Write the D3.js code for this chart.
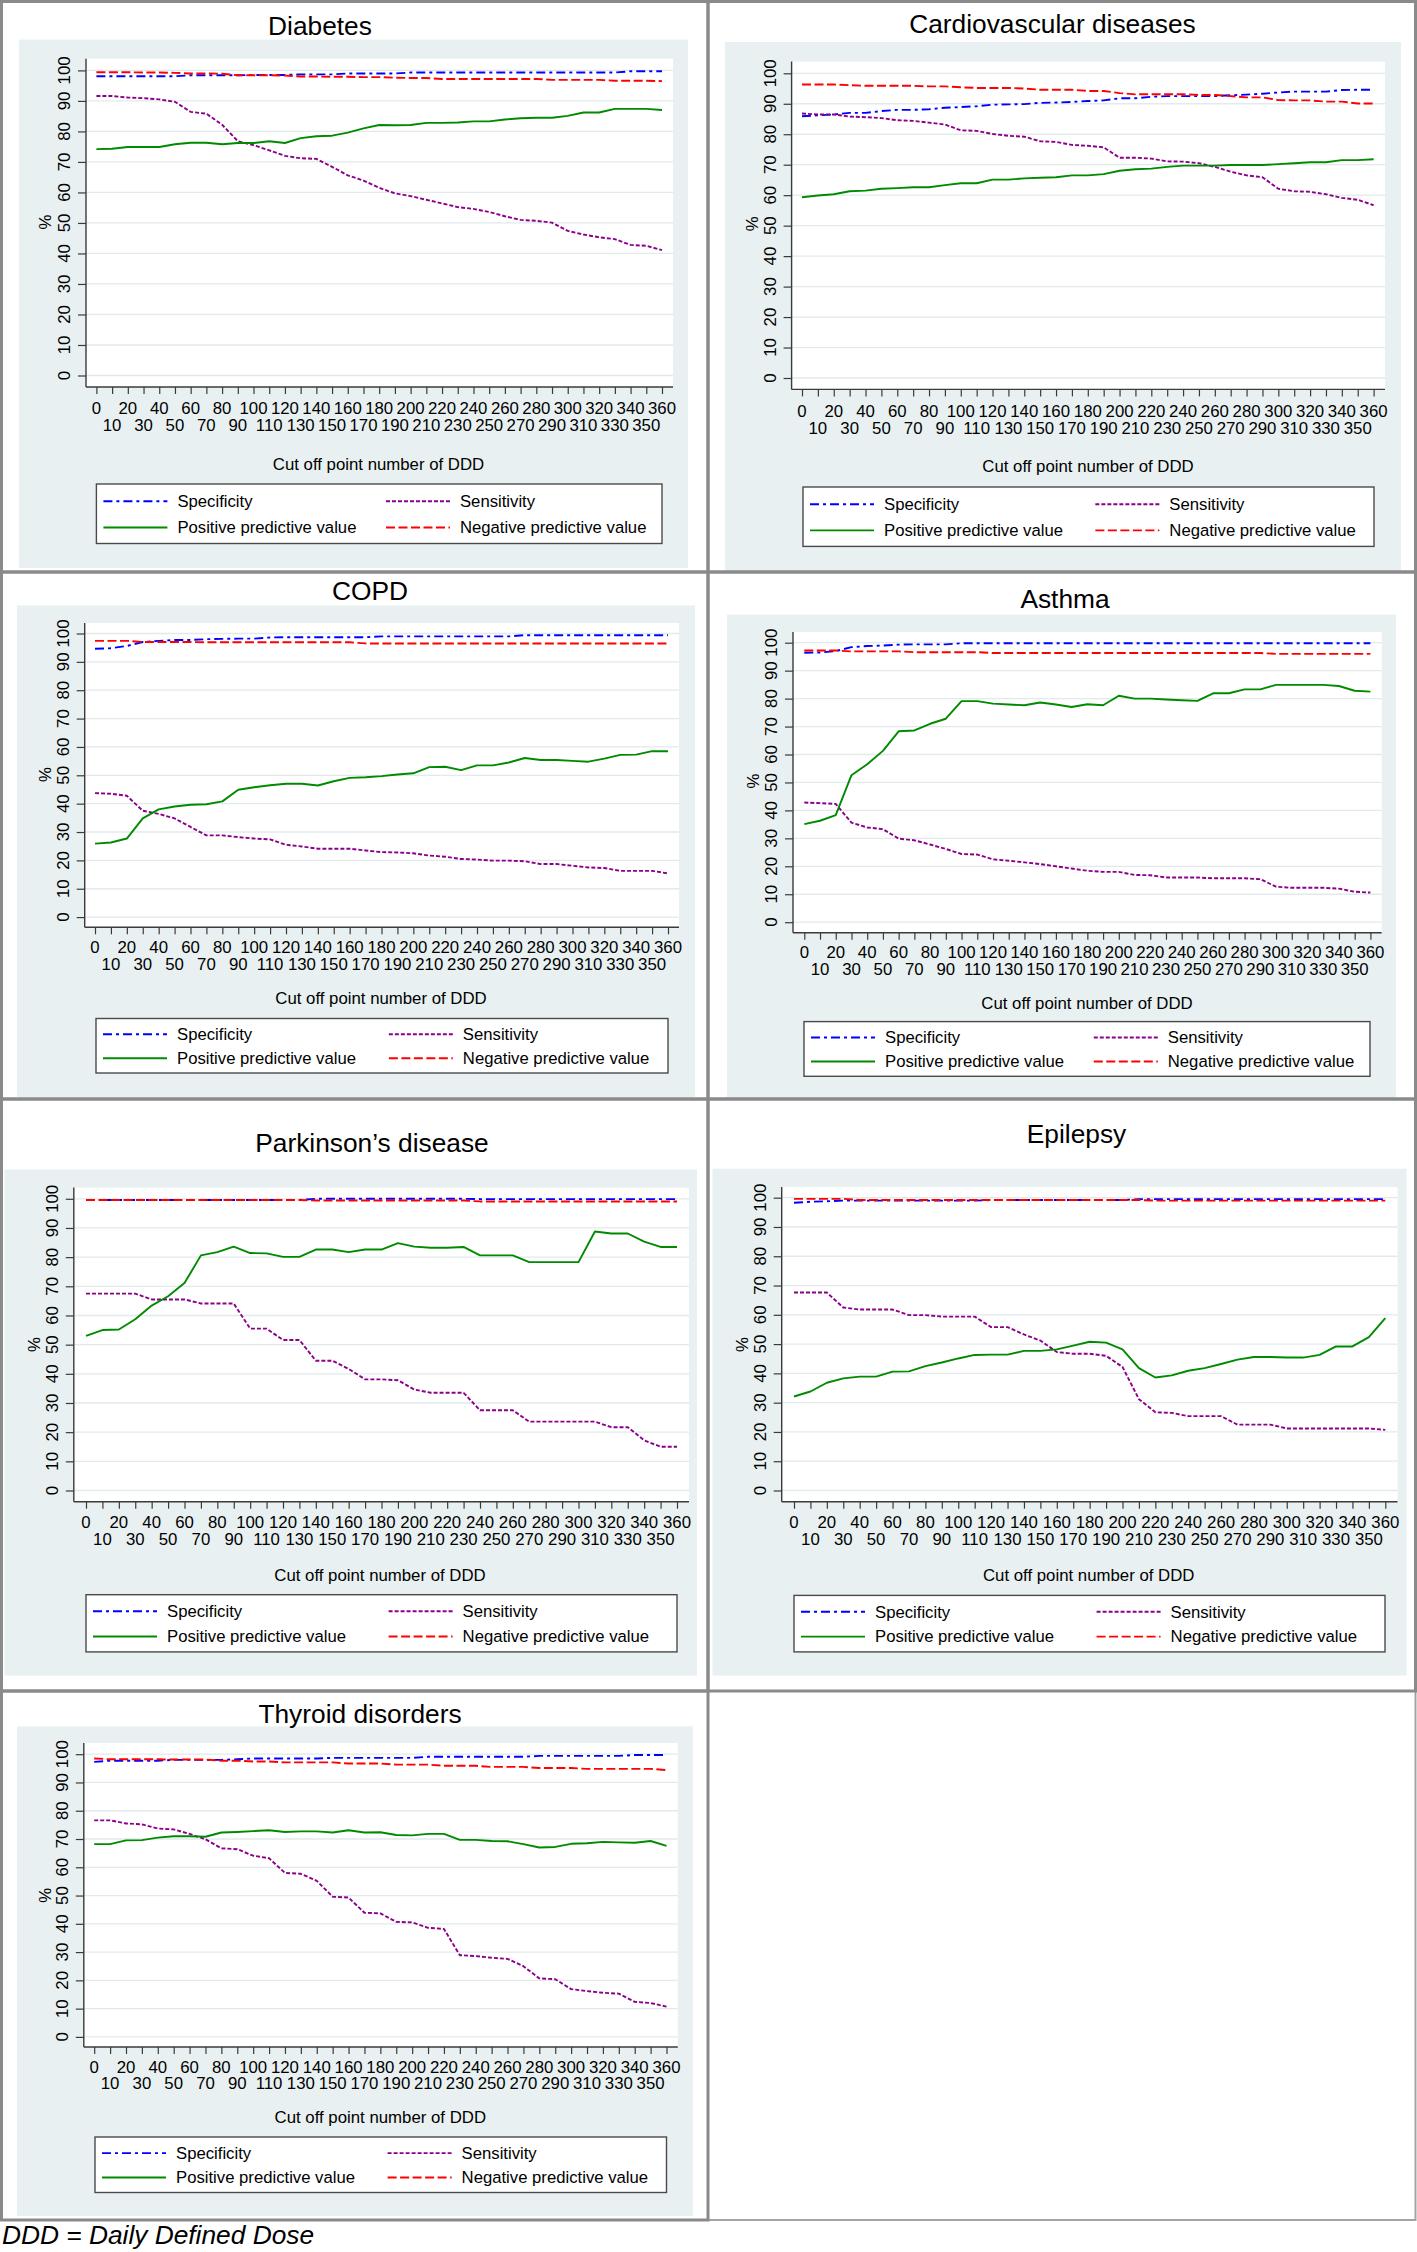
<!DOCTYPE html>
<html>
<head>
<meta charset="utf-8">
<script src="https://cdn.jsdelivr.net/npm/d3@7"></script>
<style>
  body { margin: 0; background: #ffffff; }
  svg { display: block; }
  text { font-family: "Liberation Sans", Arial, Helvetica, sans-serif; fill: #000; }
</style>
</head>
<body>
<svg id="chart" width="1417" height="2252"></svg>
<script>
// ---------------- DATA ----------------
const cutoffs = [0,10,20,30,40,50,60,70,80,90,100,110,120,130,140,150,160,170,180,190,200,210,220,230,240,250,260,270,280,290,300,310,320,330,340,350,360];
const yTicks = [0,10,20,30,40,50,60,70,80,90,100];
const seriesNames = ["Specificity","Sensitivity","Positive predictive value","Negative predictive value"];
const panelTitles = ["Diabetes","Cardiovascular diseases","COPD","Asthma","Parkinson\u2019s disease","Epilepsy","Thyroid disorders"];
const xAxisTitle = "Cut off point number of DDD";
const yAxisTitle = "%";
const footnote = "DDD = Daily Defined Dose";

// Diabetes
const diabetesSpecificity = [98.1,98.1,98.1,98.1,98.1,98.1,98.4,98.4,98.4,98.4,98.5,98.5,98.5,98.7,98.7,98.7,99.0,99.0,99.0,99.0,99.3,99.3,99.3,99.3,99.3,99.3,99.3,99.3,99.3,99.3,99.3,99.3,99.3,99.3,99.7,99.7,99.7];
const diabetesSensitivity = [91.6,91.6,91.1,90.9,90.5,89.7,86.4,85.8,82.2,76.8,75.5,73.8,72.0,71.2,71.0,68.4,65.6,63.9,61.5,59.7,58.8,57.6,56.4,55.2,54.6,53.6,52.2,51.0,50.7,50.1,47.4,46.2,45.3,44.7,42.8,42.5,41.1];
const diabetesPPV = [74.2,74.3,74.9,74.9,74.9,75.8,76.3,76.3,75.8,76.2,76.2,76.8,76.2,77.8,78.4,78.6,79.6,81.0,82.1,82.0,82.1,82.8,82.8,82.9,83.3,83.3,83.9,84.3,84.5,84.5,85.1,86.2,86.2,87.4,87.4,87.4,87.0];
const diabetesNPV = [99.4,99.4,99.4,99.3,99.3,99.2,99.0,99.0,98.9,98.4,98.4,98.4,98.3,98.0,98.0,97.9,97.9,97.8,97.8,97.6,97.5,97.5,97.2,97.2,97.2,97.2,97.2,97.2,97.2,96.9,96.9,96.9,96.9,96.6,96.6,96.6,96.5];

// Cardiovascular diseases
const cardioSpecificity = [85.9,86.2,86.5,87.0,87.0,87.6,88.0,88.0,88.2,88.7,88.9,89.2,89.7,89.8,89.9,90.3,90.4,90.6,90.9,91.1,91.8,91.8,92.3,92.5,92.5,92.5,92.5,92.8,93.0,93.3,93.7,94.0,94.0,94.0,94.5,94.6,94.6];
const cardioSensitivity = [86.8,86.5,86.5,85.8,85.6,85.3,84.6,84.4,83.8,83.2,81.3,81.1,80.1,79.5,79.2,77.7,77.5,76.5,76.2,75.7,72.3,72.3,72.0,71.1,71.0,70.5,69.3,67.7,66.5,65.9,62.1,61.3,61.1,60.3,59.1,58.5,56.7];
const cardioPPV = [59.3,59.9,60.3,61.3,61.5,62.1,62.3,62.6,62.6,63.3,63.9,63.9,65.1,65.1,65.5,65.7,65.9,66.5,66.5,66.9,68.0,68.5,68.7,69.3,69.7,69.7,69.7,69.9,69.9,69.9,70.2,70.5,70.8,70.8,71.5,71.5,71.8];
const cardioNPV = [96.3,96.3,96.3,96.1,95.9,95.9,95.9,95.9,95.7,95.7,95.4,95.2,95.2,95.2,95.0,94.6,94.6,94.6,94.2,94.2,93.5,93.1,93.1,93.1,93.1,92.9,92.9,92.5,92.1,92.1,91.2,91.1,91.1,90.7,90.7,90.1,90.1];

// COPD
const copdSpecificity = [94.6,94.8,95.6,97.0,97.4,97.7,97.7,98.0,98.1,98.2,98.2,98.6,98.7,98.7,98.7,98.7,98.7,98.7,99.0,99.0,99.0,99.0,99.0,99.0,99.0,99.0,99.0,99.4,99.4,99.4,99.4,99.4,99.4,99.4,99.4,99.4,99.4];
const copdSensitivity = [43.7,43.5,42.8,37.5,36.4,34.8,31.8,28.8,28.8,28.2,27.7,27.4,25.5,24.9,24.1,24.1,24.1,23.5,22.9,22.8,22.5,21.7,21.3,20.5,20.3,19.9,19.9,19.7,18.7,18.7,18.1,17.5,17.3,16.3,16.3,16.3,15.4];
const copdPPV = [25.9,26.3,27.7,34.8,38.0,39.0,39.6,39.8,40.8,44.9,45.8,46.5,47.0,47.0,46.4,47.9,49.1,49.3,49.7,50.3,50.7,52.9,53.0,51.8,53.5,53.5,54.5,56.1,55.4,55.4,55.1,54.8,55.9,57.2,57.3,58.5,58.5];
const copdNPV = [97.4,97.4,97.4,97.0,97.0,97.0,97.0,96.9,96.9,96.9,96.9,96.9,96.9,96.9,96.9,96.9,96.9,96.5,96.5,96.5,96.5,96.5,96.5,96.5,96.5,96.5,96.5,96.5,96.5,96.5,96.5,96.5,96.5,96.5,96.5,96.5,96.5];

// Asthma
const asthmaSpecificity = [96.4,96.5,97.0,98.4,98.8,99.0,99.3,99.4,99.4,99.4,99.8,99.8,99.8,99.8,99.8,99.8,99.8,99.8,99.8,99.8,99.8,99.8,99.8,99.8,99.8,99.8,99.8,99.8,99.8,99.8,99.8,99.8,99.8,99.8,99.8,99.8,99.8];
const asthmaSensitivity = [42.8,42.6,42.3,35.6,33.9,33.3,29.9,29.3,27.8,26.2,24.4,24.2,22.5,22.0,21.4,20.8,20.0,19.2,18.4,18.0,18.0,16.9,16.8,16.0,16.0,16.0,15.7,15.7,15.7,15.4,12.7,12.3,12.3,12.3,12.0,10.9,10.6];
const asthmaPPV = [35.1,36.3,38.3,52.6,56.5,61.3,68.3,68.6,71.0,72.8,79.1,79.1,78.2,77.9,77.6,78.6,77.9,77.0,78.0,77.6,81.0,80.0,80.0,79.7,79.4,79.2,81.9,81.9,83.3,83.3,84.9,84.9,84.9,84.9,84.5,82.8,82.5];
const asthmaNPV = [97.2,97.2,97.2,96.9,96.9,96.9,96.9,96.6,96.6,96.6,96.6,96.6,96.3,96.3,96.3,96.3,96.3,96.3,96.3,96.3,96.3,96.3,96.3,96.3,96.3,96.3,96.3,96.3,96.3,96.3,96.0,96.0,96.0,96.0,96.0,96.0,96.0];

// Parkinson's disease
const parkinsonSpecificity = [99.6,99.6,99.6,99.6,99.6,99.6,99.6,99.6,99.6,99.6,99.6,99.6,99.6,99.6,100,100,100,100,100,100,100,100,100,100,99.9,99.9,99.9,99.9,99.9,99.9,99.9,99.9,99.9,99.9,99.9,99.9,99.9];
const parkinsonSensitivity = [67.5,67.5,67.5,67.5,65.5,65.5,65.5,64.1,64.1,64.1,55.5,55.5,51.6,51.6,44.5,44.5,41.7,38.1,38.1,37.8,34.6,33.5,33.5,33.5,27.5,27.5,27.5,23.6,23.6,23.6,23.6,23.6,21.7,21.7,17.2,15.0,15.0];
const parkinsonPPV = [53.0,55.0,55.2,58.7,63.4,66.6,71.1,80.6,81.7,83.6,81.4,81.3,80.1,80.1,82.6,82.6,81.7,82.6,82.6,84.8,83.6,83.2,83.2,83.5,80.6,80.6,80.6,78.3,78.3,78.3,78.3,88.8,88.1,88.1,85.3,83.5,83.5];
const parkinsonNPV = [99.6,99.6,99.6,99.6,99.6,99.6,99.6,99.6,99.6,99.6,99.6,99.6,99.6,99.6,99.4,99.4,99.4,99.4,99.4,99.4,99.4,99.4,99.4,99.4,99.1,99.1,99.1,99.1,99.1,99.1,99.1,99.1,99.1,99.1,99.1,99.1,99.1];

// Epilepsy
const epilepsySpecificity = [98.3,98.6,98.8,99.0,99.0,99.0,99.0,99.0,99.0,99.0,99.0,99.0,99.2,99.2,99.2,99.2,99.2,99.2,99.2,99.2,99.2,99.5,99.5,99.5,99.5,99.5,99.5,99.5,99.5,99.5,99.5,99.5,99.5,99.5,99.5,99.5,99.5];
const epilepsySensitivity = [67.6,67.6,67.6,62.5,61.8,61.8,61.8,59.9,59.9,59.4,59.4,59.4,55.8,55.8,53.3,51.2,47.3,46.7,46.7,46.0,42.2,31.2,26.7,26.5,25.4,25.4,25.4,22.5,22.5,22.5,21.2,21.2,21.2,21.2,21.2,21.2,20.7];
const epilepsyPPV = [32.1,33.8,36.8,38.3,38.9,38.9,40.6,40.7,42.5,43.7,45.1,46.3,46.4,46.4,47.7,47.7,48.2,49.5,50.8,50.5,48.2,41.8,38.6,39.3,40.9,41.8,43.2,44.7,45.6,45.6,45.4,45.4,46.3,49.2,49.2,52.4,58.9];
const epilepsyNPV = [99.6,99.6,99.6,99.6,99.2,99.2,99.2,99.2,99.2,99.2,99.2,99.2,99.2,99.2,99.2,99.2,99.2,99.2,99.2,99.2,99.2,99.2,99.0,99.0,99.0,99.0,99.0,99.0,99.0,99.0,99.0,99.0,99.0,99.0,99.0,99.0,99.0];

// Thyroid disorders
const thyroidSpecificity = [97.3,97.7,97.7,97.7,97.7,98.0,98.0,98.0,98.0,98.2,98.5,98.5,98.5,98.5,98.5,98.7,98.7,98.7,98.7,98.7,98.7,99.1,99.1,99.1,99.1,99.1,99.1,99.1,99.4,99.4,99.4,99.4,99.4,99.4,99.7,99.7,99.7];
const thyroidSensitivity = [76.6,76.6,75.5,75.2,73.7,73.4,71.8,69.9,66.7,66.4,64.1,63.2,58.0,57.7,55.2,49.6,49.3,43.9,43.7,40.7,40.5,38.6,38.2,28.9,28.6,28.0,27.6,25.0,20.7,20.4,16.9,16.2,15.6,15.3,12.4,12.0,10.7];
const thyroidPPV = [68.2,68.2,69.5,69.6,70.5,71.0,71.0,70.8,72.3,72.5,72.8,73.1,72.5,72.7,72.7,72.3,73.1,72.3,72.4,71.4,71.3,71.8,71.8,69.7,69.7,69.3,69.2,68.2,67.0,67.2,68.3,68.5,69.0,68.8,68.7,69.3,67.6];
const thyroidNPV = [98.5,98.2,98.2,98.2,98.2,98.1,98.1,98.1,97.7,97.7,97.4,97.4,97.1,97.1,97.1,97.1,96.7,96.7,96.7,96.3,96.3,96.3,95.9,95.9,95.9,95.5,95.5,95.5,95.1,95.1,95.1,94.8,94.8,94.8,94.8,94.8,94.4];

// -------------- table built from the arrays --------------
const panels = [
  {title: panelTitles[0], series: [diabetesSpecificity, diabetesSensitivity, diabetesPPV, diabetesNPV]},
  {title: panelTitles[1], series: [cardioSpecificity, cardioSensitivity, cardioPPV, cardioNPV]},
  {title: panelTitles[2], series: [copdSpecificity, copdSensitivity, copdPPV, copdNPV]},
  {title: panelTitles[3], series: [asthmaSpecificity, asthmaSensitivity, asthmaPPV, asthmaNPV]},
  {title: panelTitles[4], series: [parkinsonSpecificity, parkinsonSensitivity, parkinsonPPV, parkinsonNPV]},
  {title: panelTitles[5], series: [epilepsySpecificity, epilepsySensitivity, epilepsyPPV, epilepsyNPV]},
  {title: panelTitles[6], series: [thyroidSpecificity, thyroidSensitivity, thyroidPPV, thyroidNPV]}
];

// -------------- layout (pixels) --------------
const layouts = [
  {frame:[1.5,1.5,708,572], title:[320,25.7], inner:[19,39.6,688,568], plot:[86,58.7,673,387], y100:70.4, y0:375.5, x0:96.4, x360:662, r1:408, r2:425, xt:[378.5,464], leg:[96.4,484,662,543.5], pct:[45,222]},
  {frame:[708,1.5,1415.5,572], title:[1052.5,23.8], inner:[725,42,1401,572], plot:[791.6,61.6,1385,389.4], y100:73.3, y0:378, x0:802, x360:1373.6, r1:410.7, r2:428.3, xt:[1088,465.7], leg:[803,487,1374,546.4], pct:[752,223.7]},
  {frame:[1.5,572,708,1099], title:[370,591], inner:[17,605.5,695,1097], plot:[84.7,623,679,927.3], y100:633.5, y0:917.1, x0:95, x360:668, r1:946.9, r2:963.8, xt:[381,998.6], leg:[96,1018.5,668,1073], pct:[45,774.5]},
  {frame:[708,572,1415.5,1099], title:[1065,598.7], inner:[727,614.6,1396,1099], plot:[793,631.9,1381.7,932.7], y100:642.7, y0:922.2, x0:804.3, x360:1370.4, r1:952, r2:968.9, xt:[1087,1002.7], leg:[804,1021.6,1370,1076.3], pct:[753,781]},
  {frame:[1.5,1099,708,1691], title:[372,1143], inner:[4.5,1169.5,697,1675.6], plot:[73.8,1187.6,689,1501.7], y100:1198.8, y0:1490.5, x0:86, x360:677, r1:1522, r2:1539.4, xt:[380,1575], leg:[86,1594.7,677,1651.9], pct:[34,1344.5]},
  {frame:[708,1099,1415.5,1691], title:[1076.5,1133.7], inner:[712.5,1168.7,1406.6,1675.6], plot:[781.7,1187,1397.5,1501.7], y100:1197.7, y0:1490.5, x0:794, x360:1385.3, r1:1522, r2:1539.4, xt:[1088.7,1575], leg:[794,1595.4,1385,1651.9], pct:[742,1344.5]},
  {frame:[1.5,1691,708,2220], title:[360,1714], inner:[17,1726.4,692.8,2216], plot:[83.8,1743,677.8,2047], y100:1754.2, y0:2036.9, x0:94.2, x360:666.5, r1:2066.8, r2:2083, xt:[380.3,2117.4], leg:[95,2137,666.5,2192.5], pct:[45,1895.4]}
];
const emptyFrame = [708,1691,1415.5,2220];

const seriesStyles = [
  {color:"#0000ff", dash:"9,4,3,4"},   // Specificity
  {color:"#8b008b", dash:"4,2"},       // Sensitivity
  {color:"#008a00", dash:null},        // PPV
  {color:"#ff0000", dash:"9,3.5"}      // NPV
];
// legend order: row1 spec, sens ; row2 ppv, npv
const legendSlots = [
  {s:0, col:0, row:0}, {s:1, col:1, row:0},
  {s:2, col:0, row:1}, {s:3, col:1, row:1}
];

const svg = d3.select("#chart");
svg.append("rect").attr("x",0).attr("y",0).attr("width",1417).attr("height",2252).attr("fill","#ffffff");

// empty bottom-right box
svg.append("rect")
  .attr("x", emptyFrame[0]).attr("y", emptyFrame[1])
  .attr("width", emptyFrame[2]-emptyFrame[0]).attr("height", emptyFrame[3]-emptyFrame[1])
  .attr("fill","none").attr("stroke","#a3a3a3").attr("stroke-width",2);

function drawPanel(p, L) {
  const g = svg.append("g");
  // inner region
  g.append("rect")
    .attr("x", L.inner[0]).attr("y", L.inner[1])
    .attr("width", L.inner[2]-L.inner[0]).attr("height", L.inner[3]-L.inner[1])
    .attr("fill", "#e8f0f1");
  // plot area
  g.append("rect")
    .attr("x", L.plot[0]).attr("y", L.plot[1])
    .attr("width", L.plot[2]-L.plot[0]).attr("height", L.plot[3]-L.plot[1])
    .attr("fill", "#ffffff");

  const x = d3.scaleLinear().domain([0, 360]).range([L.x0, L.x360]);
  const y = d3.scaleLinear().domain([0, 100]).range([L.y0, L.y100]);

  // gridlines
  g.append("g").selectAll("line").data(yTicks).join("line")
    .attr("x1", L.plot[0]).attr("x2", L.plot[2])
    .attr("y1", d => y(d)).attr("y2", d => y(d))
    .attr("stroke", "#e2eaec").attr("stroke-width", 1.3);

  // y axis ticks
  const yAxis = d3.axisLeft(y).tickValues(yTicks).tickSize(8).tickSizeOuter(0).tickFormat("");
  const ya = g.append("g").attr("transform", `translate(${L.plot[0]},0)`).call(yAxis);
  ya.select(".domain").remove();
  ya.selectAll("line").attr("stroke", "#3a3a3a").attr("stroke-width", 1.2);

  // x axis ticks
  const xAxis = d3.axisBottom(x).tickValues(cutoffs).tickSize(7).tickSizeOuter(0).tickFormat("");
  const xa = g.append("g").attr("transform", `translate(0,${L.plot[3]})`).call(xAxis);
  xa.select(".domain").remove();
  xa.selectAll("line").attr("stroke", "#3a3a3a").attr("stroke-width", 1.2);

  // axis lines
  g.append("line").attr("x1", L.plot[0]).attr("x2", L.plot[0]).attr("y1", L.plot[1]).attr("y2", L.plot[3])
    .attr("stroke", "#3a3a3a").attr("stroke-width", 1.4);
  g.append("line").attr("x1", L.plot[0]).attr("x2", L.plot[2]).attr("y1", L.plot[3]).attr("y2", L.plot[3])
    .attr("stroke", "#3a3a3a").attr("stroke-width", 1.4);

  // y tick labels (rotated)
  g.append("g").selectAll("text").data(yTicks).join("text")
    .attr("transform", d => `translate(${L.plot[0]-21.5},${y(d)}) rotate(-90)`)
    .attr("text-anchor", "middle").attr("dy", "0.35em")
    .style("font-size", "16.8px")
    .text(d => d);

  // x tick labels in two rows
  g.append("g").selectAll("text").data(cutoffs).join("text")
    .attr("x", d => x(d))
    .attr("y", d => (d % 20 === 0) ? L.r1 : L.r2)
    .attr("text-anchor", "middle").attr("dy", "0.35em")
    .style("font-size", "16.8px")
    .text(d => d);

  // axis titles
  g.append("text").attr("x", L.xt[0]).attr("y", L.xt[1]).attr("dy", "0.35em")
    .attr("text-anchor", "middle").style("font-size", "16.8px").text(xAxisTitle);
  g.append("text")
    .attr("transform", `translate(${L.pct[0]},${L.pct[1]}) rotate(-90)`)
    .attr("text-anchor", "middle").attr("dy", "0.35em")
    .style("font-size", "16.8px").text(yAxisTitle);

  // series lines
  const line = d3.line().x((d, i) => x(cutoffs[i])).y(d => y(d));
  p.series.forEach((vals, si) => {
    const st = seriesStyles[si];
    g.append("path").datum(vals)
      .attr("d", line)
      .attr("fill", "none")
      .attr("stroke", st.color)
      .attr("stroke-width", 1.9)
      .attr("stroke-dasharray", st.dash)
      .attr("stroke-linejoin", "round");
  });

  // legend
  const lw = L.leg[2]-L.leg[0], lh = L.leg[3]-L.leg[1];
  const lg = g.append("g").attr("transform", `translate(${L.leg[0]},${L.leg[1]})`);
  lg.append("rect").attr("x",0).attr("y",0).attr("width",lw).attr("height",lh)
    .attr("fill","#ffffff").attr("stroke","#4a4a4a").attr("stroke-width",1.4);
  const colX = [7, lw*0.512];
  const rowY = [lh*0.29, lh*0.73];
  legendSlots.forEach(sl => {
    const st = seriesStyles[sl.s];
    const sx = colX[sl.col], sy = rowY[sl.row];
    lg.append("line").attr("x1", sx).attr("x2", sx+64).attr("y1", sy).attr("y2", sy)
      .attr("stroke", st.color).attr("stroke-width", 1.9).attr("stroke-dasharray", st.dash);
    lg.append("text").attr("x", sx+74).attr("y", sy).attr("dy","0.35em")
      .style("font-size","16.7px").text(seriesNames[sl.s]);
  });

  // title
  g.append("text").attr("x", L.title[0]).attr("y", L.title[1]).attr("dy", "0.35em")
    .attr("text-anchor", "middle").style("font-size", "26.3px").text(p.title);
}

panels.forEach((p, i) => drawPanel(p, layouts[i]));

// frames
layouts.forEach(L => {
  svg.append("rect")
    .attr("x", L.frame[0]).attr("y", L.frame[1])
    .attr("width", L.frame[2]-L.frame[0]).attr("height", L.frame[3]-L.frame[1])
    .attr("fill", "none").attr("stroke", "#8a8a8a").attr("stroke-width", 3);
});

// footnote
svg.append("text").attr("x", 2).attr("y", 2244)
  .style("font-size", "26.3px").style("font-style", "italic")
  .text(footnote);
</script>
</body>
</html>
